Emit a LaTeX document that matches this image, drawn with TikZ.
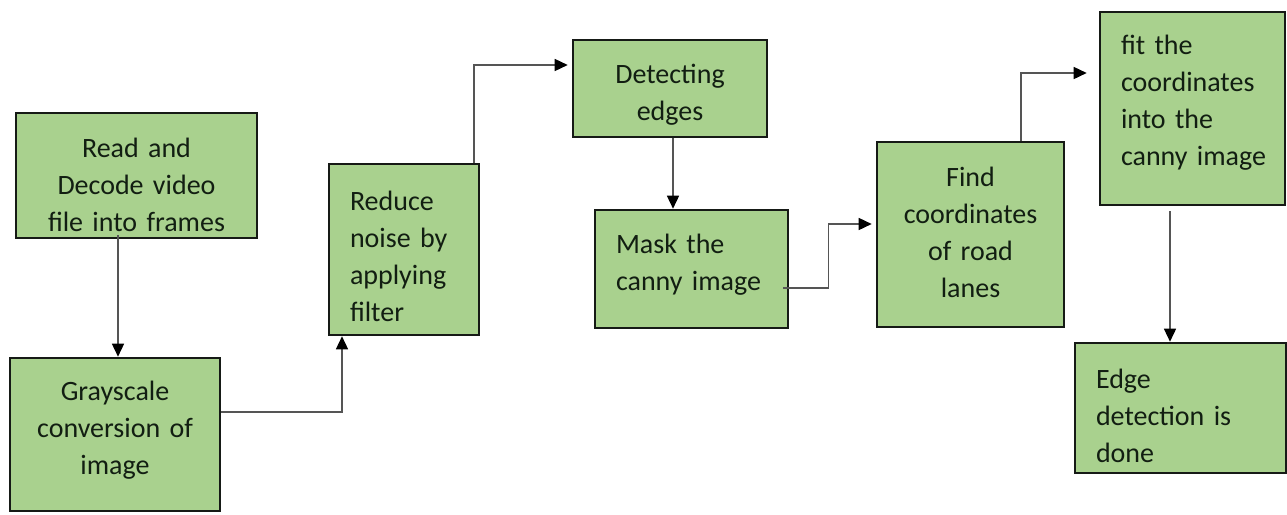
\documentclass[tikz,border=0pt]{standalone}
\usepackage{fontspec}
\setmainfont{Carlito}
\usetikzlibrary{arrows.meta,calc}
\definecolor{boxgreen}{RGB}{169,209,142}
\definecolor{boxline}{RGB}{22,26,22}
\definecolor{txt}{RGB}{18,30,18}
\definecolor{conn}{RGB}{85,85,85}
\tikzset{
  stepbox/.style={draw=boxline, line width=2.6pt, fill=boxgreen, minimum width=#1, inner sep=0pt},
  lbl/.style={text=txt, font=\fontsize{28}{37}\selectfont, inner sep=0pt,
    text width=#1-42pt, execute at begin node={\hyphenpenalty=10000}},
  arr/.style={draw=conn, line width=1.5pt, -{Triangle[length=13pt,width=12pt,black]}},
}
\begin{document}
\begin{tikzpicture}[x=1pt,y=-1pt]
\useasboundingbox (0,0) rectangle (1287,514);
\fill[white] (0,0) rectangle (1287,514);

\node[stepbox=241pt, minimum height=125pt,
  label={[lbl=241pt, align=center, yshift=-9.5pt]center:{Read and\\Decode video\\\mbox{file into frames}}}] (r) at (136.5,175.5) {};
\node[stepbox=210pt, minimum height=153pt,
  label={[lbl=210pt, align=center, yshift=4pt]center:{Grayscale\\\mbox{conversion of}\\image}}] (g) at (115,434.5) {};
\node[stepbox=150pt, minimum height=171pt,
  label={[lbl=150pt, align=left, yshift=-6.5pt]center:{Reduce\\\mbox{noise by}\\applying\\filter}}] (n) at (404,249.5) {};
\node[stepbox=194pt, minimum height=97pt,
  label={[lbl=194pt, align=center, yshift=-6.5pt]center:{Detecting\\edges}}] (d) at (670,88.5) {};
\node[stepbox=193pt, minimum height=118pt,
  label={[lbl=193pt, align=left, yshift=4pt]center:{Mask the\\\mbox{canny image}}}] (m) at (691.5,269) {};
\node[stepbox=187pt, minimum height=185pt,
  label={[lbl=187pt, align=center, yshift=2pt]center:{Find\\coordinates\\of road\\lanes}}] (f) at (970.5,234.5) {};
\node[stepbox=185pt, minimum height=193pt,
  label={[lbl=185pt, align=left, yshift=5.5pt]center:{fit the\\coordinates\\into the\\\mbox{canny image}}}] (t) at (1192.5,108.5) {};
\node[stepbox=211pt, minimum height=130pt,
  label={[lbl=211pt, align=left, yshift=-8pt]center:{Edge\\\mbox{detection is}\\done}}] (e) at (1180.5,408) {};

% connectors
\draw[arr] ([xshift=-18.5pt,yshift=4pt]r.south) -- ([xshift=-18.5pt]r.south |- g.north);
\draw[arr] ([yshift=22.5pt]g.east) -| ([xshift=-62pt]n.south);
\draw[arr, shorten >=4pt] ([xshift=70pt]n.north) |- ([yshift=23.5pt]d.west);
\draw[arr] ([xshift=3pt]d.south) -- ([xshift=3pt]d.south |- m.north);
\draw[arr, shorten >=4pt] ([xshift=-6pt,yshift=-19pt]m.east) -- ++(45,0) |- ([yshift=10.5pt]f.west);
\draw[arr, shorten >=12pt] ([xshift=50.5pt]f.north) |- ([yshift=35.5pt]t.west);
\draw[arr] ([xshift=-22.5pt,yshift=-5pt]t.south) -- ([xshift=-22.5pt]t.south |- e.north);
\end{tikzpicture}
\end{document}
